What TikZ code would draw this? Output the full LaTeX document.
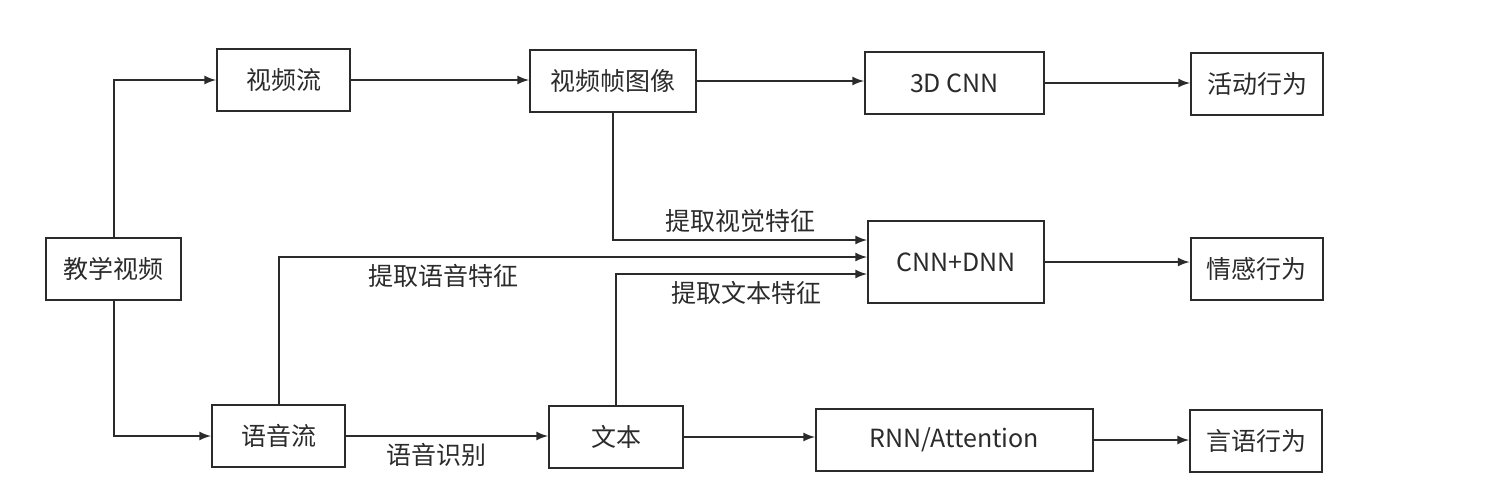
\documentclass[tikz,border=0pt]{standalone}
\usepackage{fontspec}
\setmainfont{Noto Sans CJK SC}
\usepackage{tikz}
\usetikzlibrary{arrows}
\usetikzlibrary{positioning}

\begin{document}
\begin{tikzpicture}[x = 0.5pt, y = -0.5pt, >=latex]
    \definecolor{my_gray}{HTML}{2B2B2B}
    \tikzstyle{box}=[draw = my_gray, line width = 1pt, text = my_gray,
                     minimum height = 31pt, inner sep = 0pt,
                     font = \fontsize{12.5}{15}\selectfont]
    \tikzstyle{link}=[->, draw = my_gray, line width = 1pt]
    \tikzstyle{tag}=[text = my_gray, inner sep = 3pt,
                     font = \fontsize{12.5}{15}\selectfont]
    \useasboundingbox (0,0) rectangle (1490,500);
    % sources
    \node[box, minimum width = 67.5pt] (teach) at (113.5,269) {教学视频};
    \node[box, minimum width = 66.5pt] (vstream) at (283.5,80) {视频流};
    \node[box, minimum width = 66.5pt] (astream) at (278.5,436) {语音流};
    \node[box, minimum width = 83pt] (frames) at (613,81) {视频帧图像};
    \node[box, minimum width = 67pt] (text) at (616,437) {文本};
    % models
    \node[box, minimum width = 89.5pt] (cnn3d) at (954.5,83) {3D CNN};
    \node[box, minimum width = 88pt, minimum height = 41pt] (cnndnn) at (956,262) {CNN+DNN};
    \node[box, minimum width = 138.5pt] (rnn) at (954.5,440) {RNN/Attention};
    % behaviours
    \node[box, minimum width = 66pt] (activity) at (1257,84) {活动行为};
    \node[box, minimum width = 66pt] (emotion) at (1256.5,269) {情感行为};
    \node[box, minimum width = 66pt] (verbal) at (1256,441) {言语行为};
    % links
    \draw[link] (teach.north) |- (vstream.west);
    \draw[link] (teach.south) |- (astream.west);
    \draw[link] (vstream.east) -- (vstream.east -| frames.west);
    \draw[link] (frames.east) -- (frames.east -| cnn3d.west);
    \draw[link] (cnn3d.east) -- (cnn3d.east -| activity.west);
    \draw[link] (frames.south) |- ([yshift = 11pt]cnndnn.west)
        node[tag, above, pos = 0.75] {提取视觉特征};
    \draw[link] (astream.north) |- ([yshift = 2.5pt]cnndnn.west)
        node[tag, below, pos = 0.64] {提取语音特征};
    \draw[link] (text.north) |- ([yshift = -6pt]cnndnn.west)
        node[tag, below, pos = 0.76] {提取文本特征};
    \draw[link] (cnndnn.east) -- (cnndnn.east -| emotion.west);
    \draw[link] (astream.east) -- (astream.east -| text.west)
        node[tag, below, pos = 0.45] {语音识别};
    \draw[link] (text.east) -- (text.east -| rnn.west);
    \draw[link] (rnn.east) -- (rnn.east -| verbal.west);
\end{tikzpicture}
\end{document}
